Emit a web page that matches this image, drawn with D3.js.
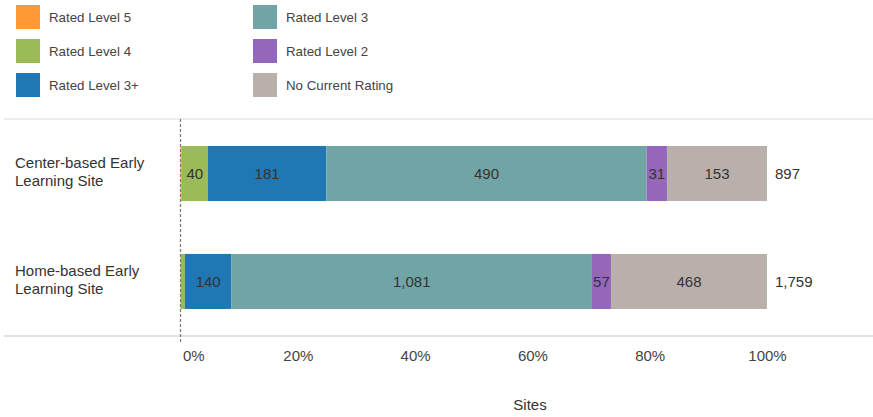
<!DOCTYPE html>
<html>
<head>
<meta charset="utf-8">
<script src="https://cdn.jsdelivr.net/npm/d3@7"></script>
<style>
  html, body { margin: 0; padding: 0; background: #fff; }
  svg { display: block; font-family: 'Liberation Sans', Arial, sans-serif; }
</style>
</head>
<body>
<svg id="chart"></svg>
<script>
'use strict';
const CATEGORIES = ['Center-based Early Learning Site', 'Home-based Early Learning Site'];
const CATEGORY_LINES = [['Center-based Early', 'Learning Site'], ['Home-based Early', 'Learning Site']];
const KEYS = ['Rated Level 5', 'Rated Level 4', 'Rated Level 3+', 'Rated Level 3', 'Rated Level 2', 'No Current Rating'];
const COLORS = ['#ff9933', '#9bbb59', '#1f77b4', '#71a5a5', '#9467bd', '#b9b0ab'];
const LEVEL5 = [2, 0];
const LEVEL4 = [40, 13];
const LEVEL3PLUS = [181, 140];
const LEVEL3 = [490, 1081];
const LEVEL2 = [31, 57];
const NO_RATING = [153, 468];
const TICKS = [0, 0.2, 0.4, 0.6, 0.8, 1];

const W = 873, H = 417;
const series = [LEVEL5, LEVEL4, LEVEL3PLUS, LEVEL3, LEVEL2, NO_RATING];

let data = CATEGORIES.map((c, i) => {
  let row = { category: c };
  KEYS.forEach((k, j) => (row[k] = series[j][i]));
  row.total = d3.sum(series, (s) => s[i]);
  return row;
});

let svg = d3.select('#chart').attr('width', W).attr('height', H);

// legend
let legend = svg.append('g');
KEYS.forEach((k, i) => {
  let col = Math.floor(i / 3), row = i % 3;
  let g = legend.append('g').attr('transform', `translate(${16 + col * 237},${5 + row * 34})`);
  g.append('rect').attr('width', 24).attr('height', 24).attr('fill', COLORS[i]);
  g.append('text').attr('x', 33).attr('y', 12).attr('dy', '0.35em')
    .attr('font-size', 13.3).attr('fill', '#444').text(k);
});

let x = d3.scaleLinear().domain([0, 1]).range([180.5, 767]);
let y = d3.scaleBand().domain(CATEGORIES).range([119, 336]).paddingInner(0.49).paddingOuter(0.25);

// frame lines
svg.append('line').attr('x1', 4).attr('x2', W).attr('y1', 119).attr('y2', 119)
  .attr('stroke', '#d9d9d9').attr('stroke-width', 1);
svg.append('line').attr('x1', 4).attr('x2', W).attr('y1', 336).attr('y2', 336)
  .attr('stroke', '#d9d9d9').attr('stroke-width', 1.5);

let stacked = d3.stack().keys(KEYS).value((d, k) => d[k] / d.total)(data);

let layers = svg.append('g').selectAll('g').data(stacked).enter().append('g')
  .attr('fill', (d, i) => COLORS[i]);

layers.selectAll('rect').data((d) => d).enter().append('rect')
  .attr('x', (d) => x(d[0]))
  .attr('width', (d) => Math.max(0, x(d[1]) - x(d[0])))
  .attr('y', (d) => y(d.data.category))
  .attr('height', y.bandwidth());

// segment labels
layers.each(function (layer) {
  d3.select(this).selectAll('text').data(layer.filter((d) => d.data[layer.key] >= 20))
    .enter().append('text')
    .attr('x', (d) => (x(d[0]) + x(d[1])) / 2)
    .attr('y', (d) => y(d.data.category) + y.bandwidth() / 2)
    .attr('dy', '0.35em')
    .attr('text-anchor', 'middle')
    .attr('font-size', 15)
    .attr('fill', '#333')
    .text((d) => d3.format(',')(d.data[layer.key]));
});

// totals
svg.append('g').selectAll('text').data(data).enter().append('text')
  .attr('x', x(1) + 8)
  .attr('y', (d) => y(d.category) + y.bandwidth() / 2)
  .attr('dy', '0.35em')
  .attr('font-size', 15)
  .attr('fill', '#333')
  .text((d) => d3.format(',')(d.total));

// category labels
svg.append('g').selectAll('text').data(data).enter().append('text')
  .attr('x', 15)
  .attr('y', (d) => y(d.category) + y.bandwidth() / 2 - 11)
  .attr('font-size', 15)
  .attr('fill', '#333')
  .each(function (d, i) {
    CATEGORY_LINES[i].forEach((line, j) => {
      d3.select(this).append('tspan').attr('x', 15).attr('dy', j === 0 ? '0.35em' : 18).text(line);
    });
  });

// zero line
svg.append('line').attr('x1', x(0)).attr('x2', x(0)).attr('y1', 119).attr('y2', 342)
  .attr('stroke', '#777').attr('stroke-width', 1.2).attr('stroke-dasharray', '3,2');

// x axis
let axis = svg.append('g').attr('transform', 'translate(0,340)')
  .call(d3.axisBottom(x).tickValues(TICKS).tickFormat(d3.format('.0%')).tickSize(0).tickPadding(10));
axis.select('.domain').remove();
axis.selectAll('.tick text')
  .attr('font-size', 15).attr('fill', '#444').attr('font-family', "'Liberation Sans', Arial, sans-serif")
  .filter((d) => d === 0).attr('text-anchor', 'start').attr('x', 2);

svg.append('text').attr('x', 530).attr('y', 405).attr('dy', '0.35em')
  .attr('text-anchor', 'middle').attr('font-size', 15).attr('fill', '#333').text('Sites');
</script>
</body>
</html>
